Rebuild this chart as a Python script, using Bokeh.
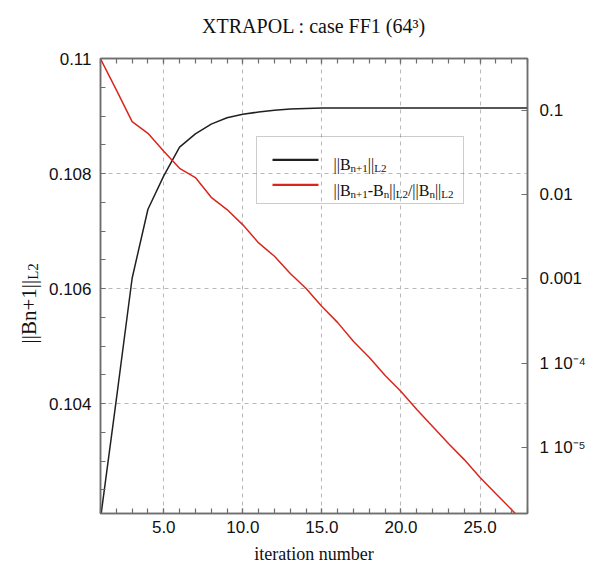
from bokeh.plotting import figure
from bokeh.layouts import row, column
from bokeh.models import (Range1d, LinearAxis, LogAxis, LogScale, FixedTicker,
                          Label, BoxAnnotation)
from bokeh.embed import file_html
from bokeh.resources import INLINE

# ---------------- data ----------------
iterations = list(range(1, 29))
norm_B = [0.10200, 0.10407, 0.10618, 0.10738, 0.10796, 0.10846, 0.10869,
          0.10886, 0.10897, 0.10903, 0.10907, 0.10910, 0.10912, 0.10913,
          0.10914, 0.10914, 0.10914, 0.10914, 0.10914, 0.10914, 0.10914,
          0.10914, 0.10914, 0.10914, 0.10914, 0.10914, 0.10914, 0.10914]
rel_change = [0.41, 0.176, 0.074, 0.0537, 0.0329, 0.0206, 0.0160, 0.00933,
              0.00667, 0.00439, 0.00268, 0.00186, 0.00116, 0.000769,
              0.000470, 0.000303, 0.000181, 0.000117, 7.13e-5, 4.60e-5,
              2.81e-5, 1.77e-5, 1.11e-5, 7.16e-6, 4.38e-6, 2.82e-6,
              1.82e-6, 1.15e-6]

x_ticks = [5, 10, 15, 20, 25]
x_tick_labels = ["5.0", "10.0", "15.0", "20.0", "25.0"]
x_minor_ticks = list(range(1, 29))
left_ticks = [0.104, 0.106, 0.108, 0.11]
left_tick_labels = ["0.104", "0.106", "0.108", "0.11"]
left_minor_ticks = [0.1025, 0.103, 0.1035, 0.104, 0.1045, 0.105, 0.1055,
                    0.106, 0.1065, 0.107, 0.1075, 0.108, 0.1085, 0.109,
                    0.1095, 0.11]
right_ticks = [1e-5, 1e-4, 1e-3, 1e-2, 1e-1]
right_tick_labels = ["1 10\u207b\u2075", "1 10\u207b\u2074", "0.001", "0.01", "0.1"]

x_limits = (1, 28)
left_limits = (0.10209, 0.11)
right_limits = (1.64e-6, 0.415)

title_text = "XTRAPOL : case FF1 (64\u00b3)"
x_label_text = "iteration number"

# ---------------- style ----------------
SANS = "Liberation Sans"
SERIF = "Liberation Serif"
AX = "#6e6e6e"
BLACK = "#231f20"
RED = "#d9261c"
GRID = "#b8b8b8"
TXT = "#111111"

W = {'|': 0.2, 'B': 0.667, 'n': 0.5, '+': 0.564, '1': 0.5, 'L': 0.611,
     '2': 0.5, '-': 0.333, '/': 0.278, ' ': 0.25}


def rich(fig, x, y, pieces, size, sub_size, drop, vertical=False):
    """Lay out text pieces with subscripts as Labels (screen units)."""
    pos = 0.0
    for txt, sub in pieces:
        fs = sub_size if sub else size
        d = drop if sub else 0.0
        if vertical:
            lx, ly, ang = x + d, y + pos, 1.5707963267948966
        else:
            lx, ly, ang = x + pos, y - d, 0.0
        fig.add_layout(Label(x=lx, y=ly, x_units="screen", y_units="screen",
                             text=txt, angle=ang, text_font=SERIF,
                             text_font_size=f"{fs}px", text_color=TXT,
                             text_align="left", text_baseline="alphabetic"))
        pos += sum(W.get(c, 0.5) for c in txt) * fs


def blank(width, height):
    f = figure(width=width, height=height, output_backend="svg",
               toolbar_location=None, x_axis_location=None,
               y_axis_location=None, x_range=Range1d(0, 1),
               y_range=Range1d(0, 1), min_border=0)
    f.title.visible = False
    f.outline_line_color = None
    f.background_fill_color = "white"
    f.border_fill_color = "white"
    f.grid.visible = False
    return f


# ---------------- title strip (608 x 40) ----------------
title_fig = blank(608, 40)
title_fig.add_layout(Label(x=313.5, y=15, x_units="screen", y_units="screen",
                           text=title_text, text_font=SERIF,
                           text_font_size="20px", text_color=TXT,
                           text_align="center", text_baseline="alphabetic"))

# ---------------- y label strip (45 x 530; its frame is aligned with the plot frame) ----
ylab_fig = blank(45, 530)
rich(ylab_fig, 28, 170, [("||Bn+1||", False), ("L2", True)], 21, 15, 4,
     vertical=True)

# ---------------- main plot (563 x 530) ----------------
p = figure(width=563, height=530, output_backend="svg", toolbar_location=None,
           x_range=Range1d(*x_limits), y_range=Range1d(*left_limits),
           min_border_left=55, min_border_right=81, min_border_top=18,
           min_border_bottom=57)
p.title.visible = False
p.extra_y_ranges = {"log": Range1d(*right_limits)}
p.extra_y_scales = {"log": LogScale()}

p.outline_line_color = AX
p.outline_line_width = 1.5
p.background_fill_color = "white"
p.border_fill_color = "white"


def style_axis(ax):
    ax.axis_line_color = AX
    ax.axis_line_width = 1.5
    ax.major_tick_line_color = AX
    ax.minor_tick_line_color = AX
    ax.major_tick_line_width = 1.2
    ax.minor_tick_line_width = 1.2
    ax.major_tick_in = 5
    ax.major_tick_out = 0
    ax.minor_tick_in = 5
    ax.minor_tick_out = 0
    ax.major_label_text_font = SANS
    ax.major_label_text_font_size = "17px"
    ax.major_label_text_color = TXT


xax = p.xaxis[0]
xax.ticker = FixedTicker(ticks=x_ticks, minor_ticks=x_minor_ticks)
xax.major_label_overrides = dict(zip(x_ticks, x_tick_labels))
style_axis(xax)
xax.major_label_standoff = 7
xax.axis_label = x_label_text
xax.axis_label_text_font = SERIF
xax.axis_label_text_font_size = "18px"
xax.axis_label_text_font_style = "normal"
xax.axis_label_text_color = TXT
xax.axis_label_standoff = 8

yax = p.yaxis[0]
yax.ticker = FixedTicker(ticks=left_ticks, minor_ticks=left_minor_ticks)
yax.major_label_overrides = dict(zip(left_ticks, left_tick_labels))
style_axis(yax)
yax.major_label_standoff = 9

top = LinearAxis(ticker=FixedTicker(ticks=x_ticks, minor_ticks=x_minor_ticks))
style_axis(top)
top.major_label_text_color = None
p.add_layout(top, "above")

right = LogAxis(y_range_name="log", ticker=FixedTicker(ticks=right_ticks))
style_axis(right)
right.minor_tick_in = 0
right.major_tick_in = 6
right.major_label_overrides = dict(zip(right_ticks, right_tick_labels))
right.major_label_standoff = 12
p.add_layout(right, "right")

p.xgrid.ticker = FixedTicker(ticks=x_ticks)
p.ygrid.ticker = FixedTicker(ticks=left_ticks)
for g in (p.xgrid[0], p.ygrid[0]):
    g.grid_line_color = GRID
    g.grid_line_dash = "4 4"
    g.grid_line_width = 1

# curves
p.line(iterations, norm_B, line_color=BLACK, line_width=1.5)
p.line(iterations, rel_change, line_color=RED, line_width=1.5,
       y_range_name="log")


# legend (frame is 427 x 455; screen units from its lower-left corner)
def sbox(l, r, t, b, **kw):
    return BoxAnnotation(left=l, right=r, top=t, bottom=b,
                         left_units="screen", right_units="screen",
                         top_units="screen", bottom_units="screen", **kw)


p.add_layout(sbox(156, 363, 377, 310, fill_color=None, line_color="#555555",
                  line_width=1))
p.add_layout(sbox(172, 218, 354.8, 352.6, fill_color=BLACK, fill_alpha=1,
                  line_color=None))
p.add_layout(sbox(172, 218, 329.8, 327.6, fill_color=RED, fill_alpha=1,
                  line_color=None))
rich(p, 233, 349.5, [("||B", False), ("n+1", True), ("||", False),
                     ("L2", True)], 16, 11, 3.5)
rich(p, 233, 323.5, [("||B", False), ("n+1", True), ("-B", False),
                     ("n", True), ("||", False), ("L2", True),
                     ("/||B", False), ("n", True), ("||", False),
                     ("L2", True)], 16, 11, 3.5)

layout = column(title_fig, row(ylab_fig, p, spacing=0), spacing=0)

open("out.html", "w").write(file_html(layout, INLINE))
